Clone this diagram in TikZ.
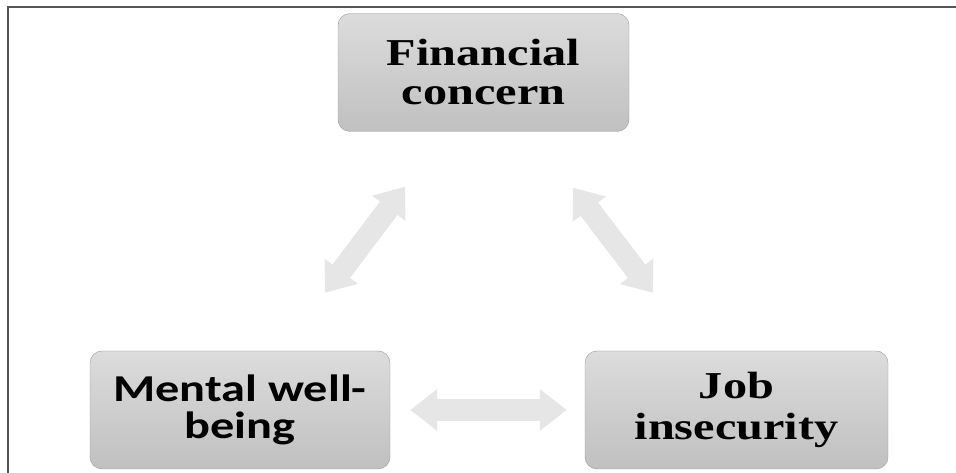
\documentclass[tikz,border=0pt]{standalone}
\usepackage{fontspec}
\usepackage{tikz}
\usetikzlibrary{arrows.meta,calc}
\newfontfamily\timeswide[FakeStretch=1.27,BoldFont={* Bold}]{Liberation Serif}
\newfontfamily\calibriwide[FakeStretch=1.27,BoldFont={* Bold}]{Carlito}
\definecolor{boxtop}{HTML}{DCDCDC}
\definecolor{boxbottom}{HTML}{C0C0C0}
\definecolor{boxedge}{HTML}{9C9C9C}
\definecolor{linkgrey}{HTML}{E6E6E6}
\definecolor{framegrey}{HTML}{555555}

\begin{document}
\begin{tikzpicture}[x=1pt,y=1pt,
  box/.style={rounded corners=12pt,draw=boxedge,thin,align=center,top color=boxtop,bottom color=boxbottom,minimum height=118pt,inner sep=0pt},
  serifbox/.style={box,font=\timeswide\bfseries\fontsize{38}{39}\selectfont},
  sansbox/.style={box,font=\calibriwide\bfseries\fontsize{38}{37}\selectfont},
  link/.style={draw=linkgrey,line width=22pt,{Triangle[length=27pt,width=40pt]}-{Triangle[length=27pt,width=40pt]}}]
\useasboundingbox (0,0) rectangle (956,473);
\draw[framegrey,line width=2pt] (8,0) -- (8,466) -- (956,466);
\node[serifbox,minimum width=291pt] (fin) at (483.5,400.5) {Financial\\concern};
\node[sansbox,minimum width=300pt] (ment) at (240,63) {Mental well-\\being};
\node[serifbox,minimum width=303pt,font=\timeswide\bfseries\fontsize{38}{41}\selectfont] (job) at (736.5,63) {Job\\insecurity};
% double arrows between the three boxes
\draw[link] ($(ment.north)+(85,58)$) -- ($(fin.south)+(-78.5,-55)$);
\draw[link] ($(fin.south)+(89.5,-56)$) -- ($(job.north)+(-83.5,58)$);
\draw[link,shorten <=20pt,shorten >=18pt] (ment.east) -- (job.west);
\end{tikzpicture}
\end{document}
